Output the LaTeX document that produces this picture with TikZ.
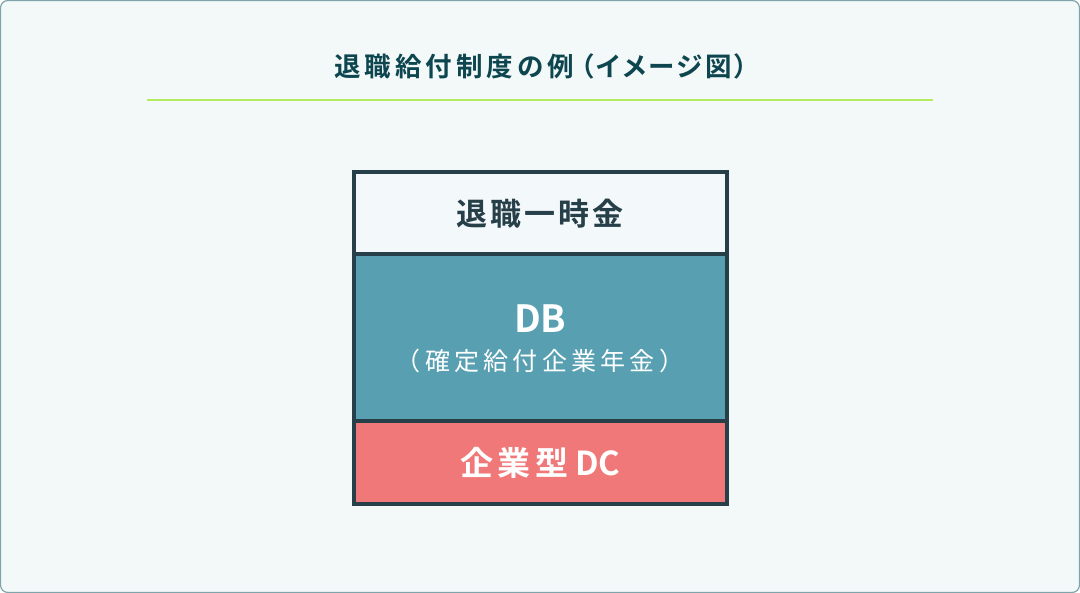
\documentclass[tikz,border=0pt]{standalone}
\usepackage{fontspec}
\setmainfont{Noto Sans CJK JP}[BoldFont={Noto Sans CJK JP Bold}]
\newfontfamily\jpfont{Noto Sans CJK JP}[BoldFont={Noto Sans CJK JP Bold}]
\definecolor{bgc}{HTML}{F3F9F9}
\definecolor{framec}{HTML}{7FA5AA}
\definecolor{titlec}{HTML}{0E4650}
\definecolor{linec}{HTML}{B5EB5E}
\definecolor{boxline}{HTML}{263F48}
\definecolor{topfill}{HTML}{F3F8FB}
\definecolor{dbfill}{HTML}{58A0B1}
\definecolor{dcfill}{HTML}{F07878}
\begin{document}
\begin{tikzpicture}[x=1pt,y=-1pt,
  lbl/.style={inner sep=0pt, anchor=center, font=\jpfont}]
\useasboundingbox (0,0) rectangle (1080,593);
\draw[framec, fill=bgc, line width=1.2pt, rounded corners=7pt] (0.6,0.6) rectangle (1079.4,592.4);
% title
\node[lbl, text=titlec, font=\jpfont\bfseries\fontsize{26.5}{30}\selectfont\addfontfeatures{LetterSpace=15}] (title) at (541,66) {退職給付制度の例\hspace{6pt}{\addfontfeatures{RawFeature=+palt,LetterSpace=10}（イメージ図）}};
\coordinate (l1) at (147,100.5);
\coordinate (l2) at (933,100.5);
\draw[linec, line width=2pt] (l1) -- (l2);
% boxes
\coordinate (tl) at (353.5,172);
\coordinate (m1) at (727,253.7);
\coordinate (m1l) at (353.5,253.7);
\coordinate (m2) at (727,421);
\coordinate (m2l) at (353.5,421);
\coordinate (br) at (727,503.7);
\fill[topfill] (tl) rectangle (m1);
\fill[dbfill] (m1l) rectangle (m2);
\fill[dcfill] (m2l) rectangle (br);
\draw[boxline, line width=4pt] (tl) rectangle (br);
\draw[boxline, line width=4pt] (m1l) -- (m1);
\draw[boxline, line width=4pt] (m2l) -- (m2);
\node[lbl, text=boxline, font=\jpfont\bfseries\fontsize{31}{34}\selectfont\addfontfeatures{LetterSpace=10}] (t1) at (540,214) {退職一時金};
\node[lbl, text=white, font=\jpfont\bfseries\fontsize{37.5}{40}\selectfont\addfontfeatures{LetterSpace=-3}] (t2) at (540,319) {DB};
\node[lbl, text=white, font=\jpfont\fontsize{25}{28}\selectfont\addfontfeatures{LetterSpace=17}] (t3) at (540,361) {（確定給付企業年金）};
\node[lbl, text=white, font=\jpfont\bfseries\fontsize{33}{36}\selectfont] (t4) at (540,463) {{\addfontfeatures{LetterSpace=14}企業型}\hspace{7pt}{\addfontfeatures{LetterSpace=-2}DC}};
\end{tikzpicture}
\end{document}
